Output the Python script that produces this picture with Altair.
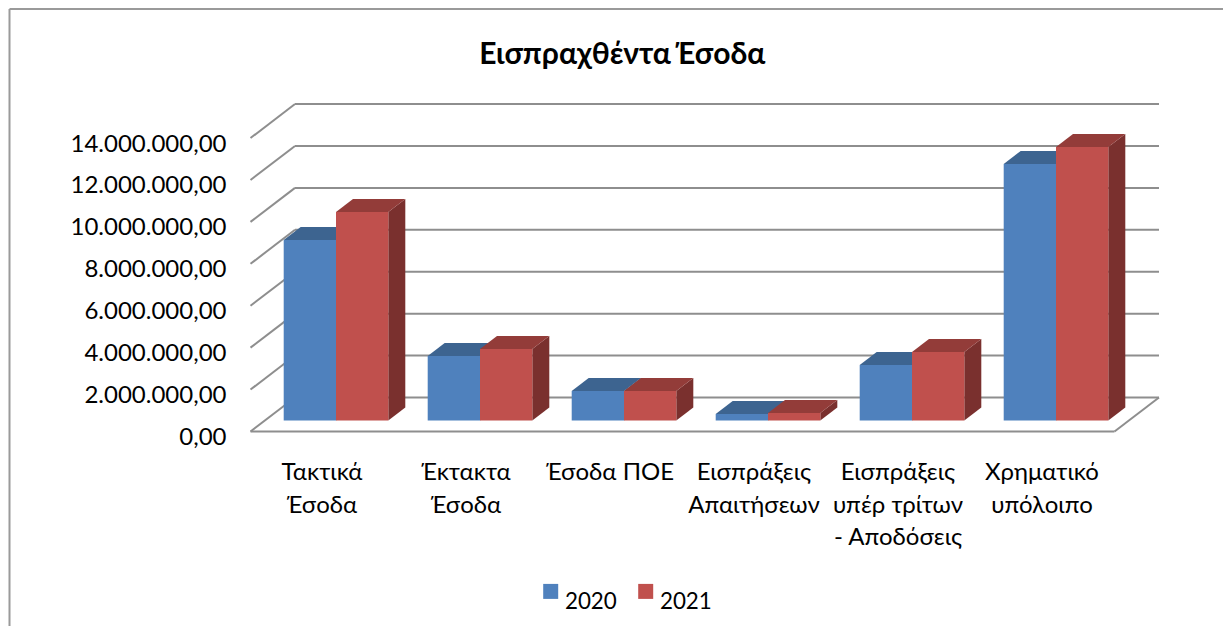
import altair as alt
import pandas as pd

# ---- data ----
categories = ["Τακτικά\nΈσοδα", "Έκτακτα\nΈσοδα", "Έσοδα ΠΟΕ", "Εισπράξεις\nΑπαιτήσεων",
              "Εισπράξεις\nυπέρ τρίτων\n- Αποδόσεις", "Χρηματικό\nυπόλοιπο"]
series_names = ["2020", "2021"]
values_2020 = [8610000, 3080000, 1410000, 310000, 2650000, 12240000]
values_2021 = [9950000, 3410000, 1410000, 360000, 3270000, 13050000]
tick_values = [0, 2000000, 4000000, 6000000, 8000000, 10000000, 12000000, 14000000]
chart_title = "Εισπραχθέντα Έσοδα"

FRONT = {"2020": "#4F81BD", "2021": "#C0504D"}
TOP = {"2020": "#3D6490", "2021": "#933C39"}
SIDE = {"2020": "#335479", "2021": "#7A302E"}
GRID = "#8E8E8E"
FRAME = "#9A9A9A"
FONT = "Lato"
SIZE = 24

# ---- layout (pixels of the page) ----
L, R, T, B = 9.5, 1223.0, 9.0, 626.0
PX_CAT = 144.0
PX_VAL = 20.96 / 1e6
X0, Y0 = 250.5, 431.5
W, H = R - L, B - T
x_domain = [(L - X0) / PX_CAT, (R - X0) / PX_CAT]
y_domain = [(Y0 - B) / PX_VAL, (Y0 - T) / PX_VAL]
wall_dx, wall_dy = 44.5 / PX_CAT, 34.0 / PX_VAL
bar_dx, bar_dy = 17.0 / PX_CAT, 13.0 / PX_VAL
shift_x, base = 13.5 / PX_CAT, 11.0 / PX_VAL
bar_w = 52.3 / PX_CAT
n = len(categories)

label_expr = ("replace(replace(replace(format(datum.value,',.2f'),/,/g,'#'),/\\./g,','),/#/g,'.')")
y_axis = alt.Axis(values=tick_values, labelExpr=label_expr, title=None, domain=False, ticks=False,
                  grid=False, labelFont=FONT, labelFontSize=SIZE, labelColor="#000000",
                  labelPadding=0, offset=-(226 - L), labelOffset=6, labelBaseline="middle")

xs = alt.Scale(domain=x_domain, nice=False, zero=False)
ys = alt.Scale(domain=y_domain, nice=False, zero=False)
X = lambda f: alt.X(f, type="quantitative", scale=xs, axis=None, stack=None)
Y = lambda f: alt.Y(f, type="quantitative", scale=ys, axis=y_axis, stack=None)

# chart frame: only its top and left edges are visible
frame_rows = [dict(x=x_domain[0], x2=x_domain[1], y=y_domain[1], y2=y_domain[1]),
              dict(x=x_domain[0], x2=x_domain[0], y=y_domain[0], y2=y_domain[1])]
frame = alt.Chart(pd.DataFrame(frame_rows)).mark_rule(color=FRAME, strokeWidth=2).encode(
    x=X("x"), x2="x2", y=Y("y"), y2="y2")

# grid: back wall, left wall, floor front edge
rows = []
for v in tick_values:
    rows.append(dict(x=wall_dx, x2=n + wall_dx, y=v + wall_dy, y2=v + wall_dy))
    rows.append(dict(x=0, x2=wall_dx, y=v, y2=v + wall_dy))
rows.append(dict(x=0, x2=n, y=0, y2=0))
rows.append(dict(x=n, x2=n + wall_dx, y=0, y2=wall_dy))
grid = alt.Chart(pd.DataFrame(rows)).mark_rule(color=GRID, strokeWidth=2).encode(
    x=X("x"), x2="x2", y=Y("y"), y2="y2")

layers = [frame, grid]
for s, vals in zip(series_names, [values_2020, values_2021]):
    j = series_names.index(s)
    side, top, front = [], [], []
    for i, v in enumerate(vals):
        x0 = i + 0.5 + shift_x + (j - 1) * bar_w
        x1 = x0 + bar_w
        front.append(dict(x=x0, x2=x1, y=base, y2=base + v, series=s))
        top.append(dict(id=i, x=x0, x2=x1, y=base + v, series=s))
        top.append(dict(id=i, x=x0 + bar_dx, x2=x1 + bar_dx, y=base + v + bar_dy, series=s))
        side.append(dict(id=i, x=x1, y=base, y2=base + v, series=s))
        side.append(dict(id=i, x=x1 + bar_dx, y=base + bar_dy, y2=base + v + bar_dy, series=s))
    layers.append(alt.Chart(pd.DataFrame(side)).mark_area(color=SIDE[s], orient="vertical").encode(
        x=X("x"), y=Y("y"), y2="y2", detail="id:N"))
    layers.append(alt.Chart(pd.DataFrame(top)).mark_area(color=TOP[s], orient="horizontal").encode(
        y=Y("y"), x=X("x"), x2="x2", detail="id:N"))
    layers.append(alt.Chart(pd.DataFrame(front)).mark_rect().encode(
        x=X("x"), x2="x2", y=Y("y"), y2="y2",
        color=alt.Color("series:N", scale=alt.Scale(domain=series_names, range=[FRONT[k] for k in series_names]),
                        legend=alt.Legend(title=None, orient="none", legendX=530, legendY=571,
                                          direction="horizontal", symbolType="square", symbolSize=225,
                                          symbolStrokeWidth=0, labelFont=FONT, labelFontSize=22.4,
                                          labelBaseline="top",
                                          labelColor="#000000", labelOffset=3, columnPadding=17,
                                          symbolOpacity=1))))

# category labels
cat_df = pd.DataFrame({"x": [i + 0.5 + shift_x for i in range(n)], "label": categories})
cat_layer = alt.Chart(cat_df).mark_text(
    font=FONT, fontSize=SIZE, color="#000000", lineBreak="\n", lineHeight=32.5,
    align="center", baseline="top", dx=-14).encode(
    x=X("x"), y=alt.value(473 - 12 - T), text="label:N")
layers.append(cat_layer)

chart = alt.layer(*layers).properties(
    width=W, height=H,
    title=alt.TitleParams(chart_title, font=FONT, fontSize=30, fontWeight="bold", color="#000000",
                          anchor="middle", frame="group", dx=6, offset=-62),
    padding={"left": L - 8, "top": T - 8, "right": 0, "bottom": 0},
    autosize=alt.AutoSizeParams(type="none"),
    background="#FFFFFF",
).configure_view(stroke=None)

chart.save("out.html", embed_options={"renderer": "svg", "actions": False})
